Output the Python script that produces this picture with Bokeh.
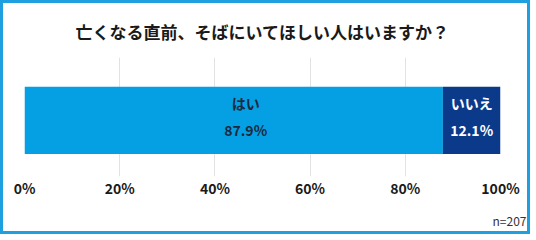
from bokeh.plotting import figure
from bokeh.models import Range1d, Title, FixedTicker, ColumnDataSource
from bokeh.core.properties import value
from bokeh.embed import file_html
from bokeh.resources import INLINE
import numpy as np

title_text = "亡くなる直前、そばにいてほしい人はいますか？"
categories = ["はい", "いいえ"]
values = [87.9, 12.1]
ticks = [0, 20, 40, 60, 80, 100]
n_note = "n=207"

colors = ["#05a0e3", "#0b3a8b"]
text_colors = ["#1b2a40", "#ffffff"]
FONT = "Noto Sans CJK JP"

vals = np.array(values)
right = np.cumsum(vals)
left = right - vals
mid = (left + right) / 2

src = ColumnDataSource(dict(
    left=left, right=right, mid=mid, cat=categories,
    pct=[f"{v:.1f}%" for v in values],
    color=colors, tcolor=text_colors,
    xoff=[12, 0],
))

p = figure(width=530, height=234, output_backend="svg", toolbar_location=None,
           x_range=Range1d(0, 100), y_range=Range1d(0, 122),
           min_border_left=21, min_border_right=33, min_border_top=52, min_border_bottom=60)
p.styles = {"border": "3px solid #1d9fe0"}
p.outline_line_color = None
p.background_fill_color = "white"
p.border_fill_color = "white"

p.hbar(y=57.5, height=69, left="left", right="right", color="color", source=src, line_color=None)

p.text(x="mid", y=57.5, text="cat", source=src, x_offset="xoff", y_offset=-17,
       text_align="center", text_baseline="middle", text_color="tcolor",
       text_font=value(FONT), text_font_style="bold", text_font_size="14px")
p.text(x="mid", y=57.5, text="pct", source=src, x_offset="xoff", y_offset=10,
       text_align="center", text_baseline="middle", text_color="tcolor",
       text_font=value(FONT), text_font_style="bold", text_font_size="14px")

p.yaxis.visible = False
p.ygrid.visible = False
p.xaxis.ticker = FixedTicker(ticks=ticks)
p.xaxis.major_label_overrides = {t: f"{t}%" for t in ticks}
p.xaxis.axis_line_color = None
p.xaxis.major_tick_line_color = None
p.xaxis.minor_tick_line_color = None
p.xaxis.major_tick_out = 0
p.xaxis.major_label_standoff = 1
p.xaxis.major_label_text_font = FONT
p.xaxis.major_label_text_font_style = "bold"
p.xaxis.major_label_text_font_size = "14px"
p.xaxis.major_label_text_color = "#1a1a1a"
p.xgrid.grid_line_color = "#e2e2e2"
p.xgrid.grid_line_width = 1

p.title.text = title_text
p.title.align = "center"
p.title.text_font = FONT
p.title.text_font_style = "bold"
p.title.text_font_size = "17px"
p.title.text_color = "#1a1a1a"
p.title.standoff = 27

p.add_layout(Title(text=n_note, align="right", text_font=FONT, text_font_style="normal",
                   text_font_size="12px", text_color="#333333", standoff=18, offset=-26), "below")

open("out.html", "w").write(file_html(p, INLINE))
